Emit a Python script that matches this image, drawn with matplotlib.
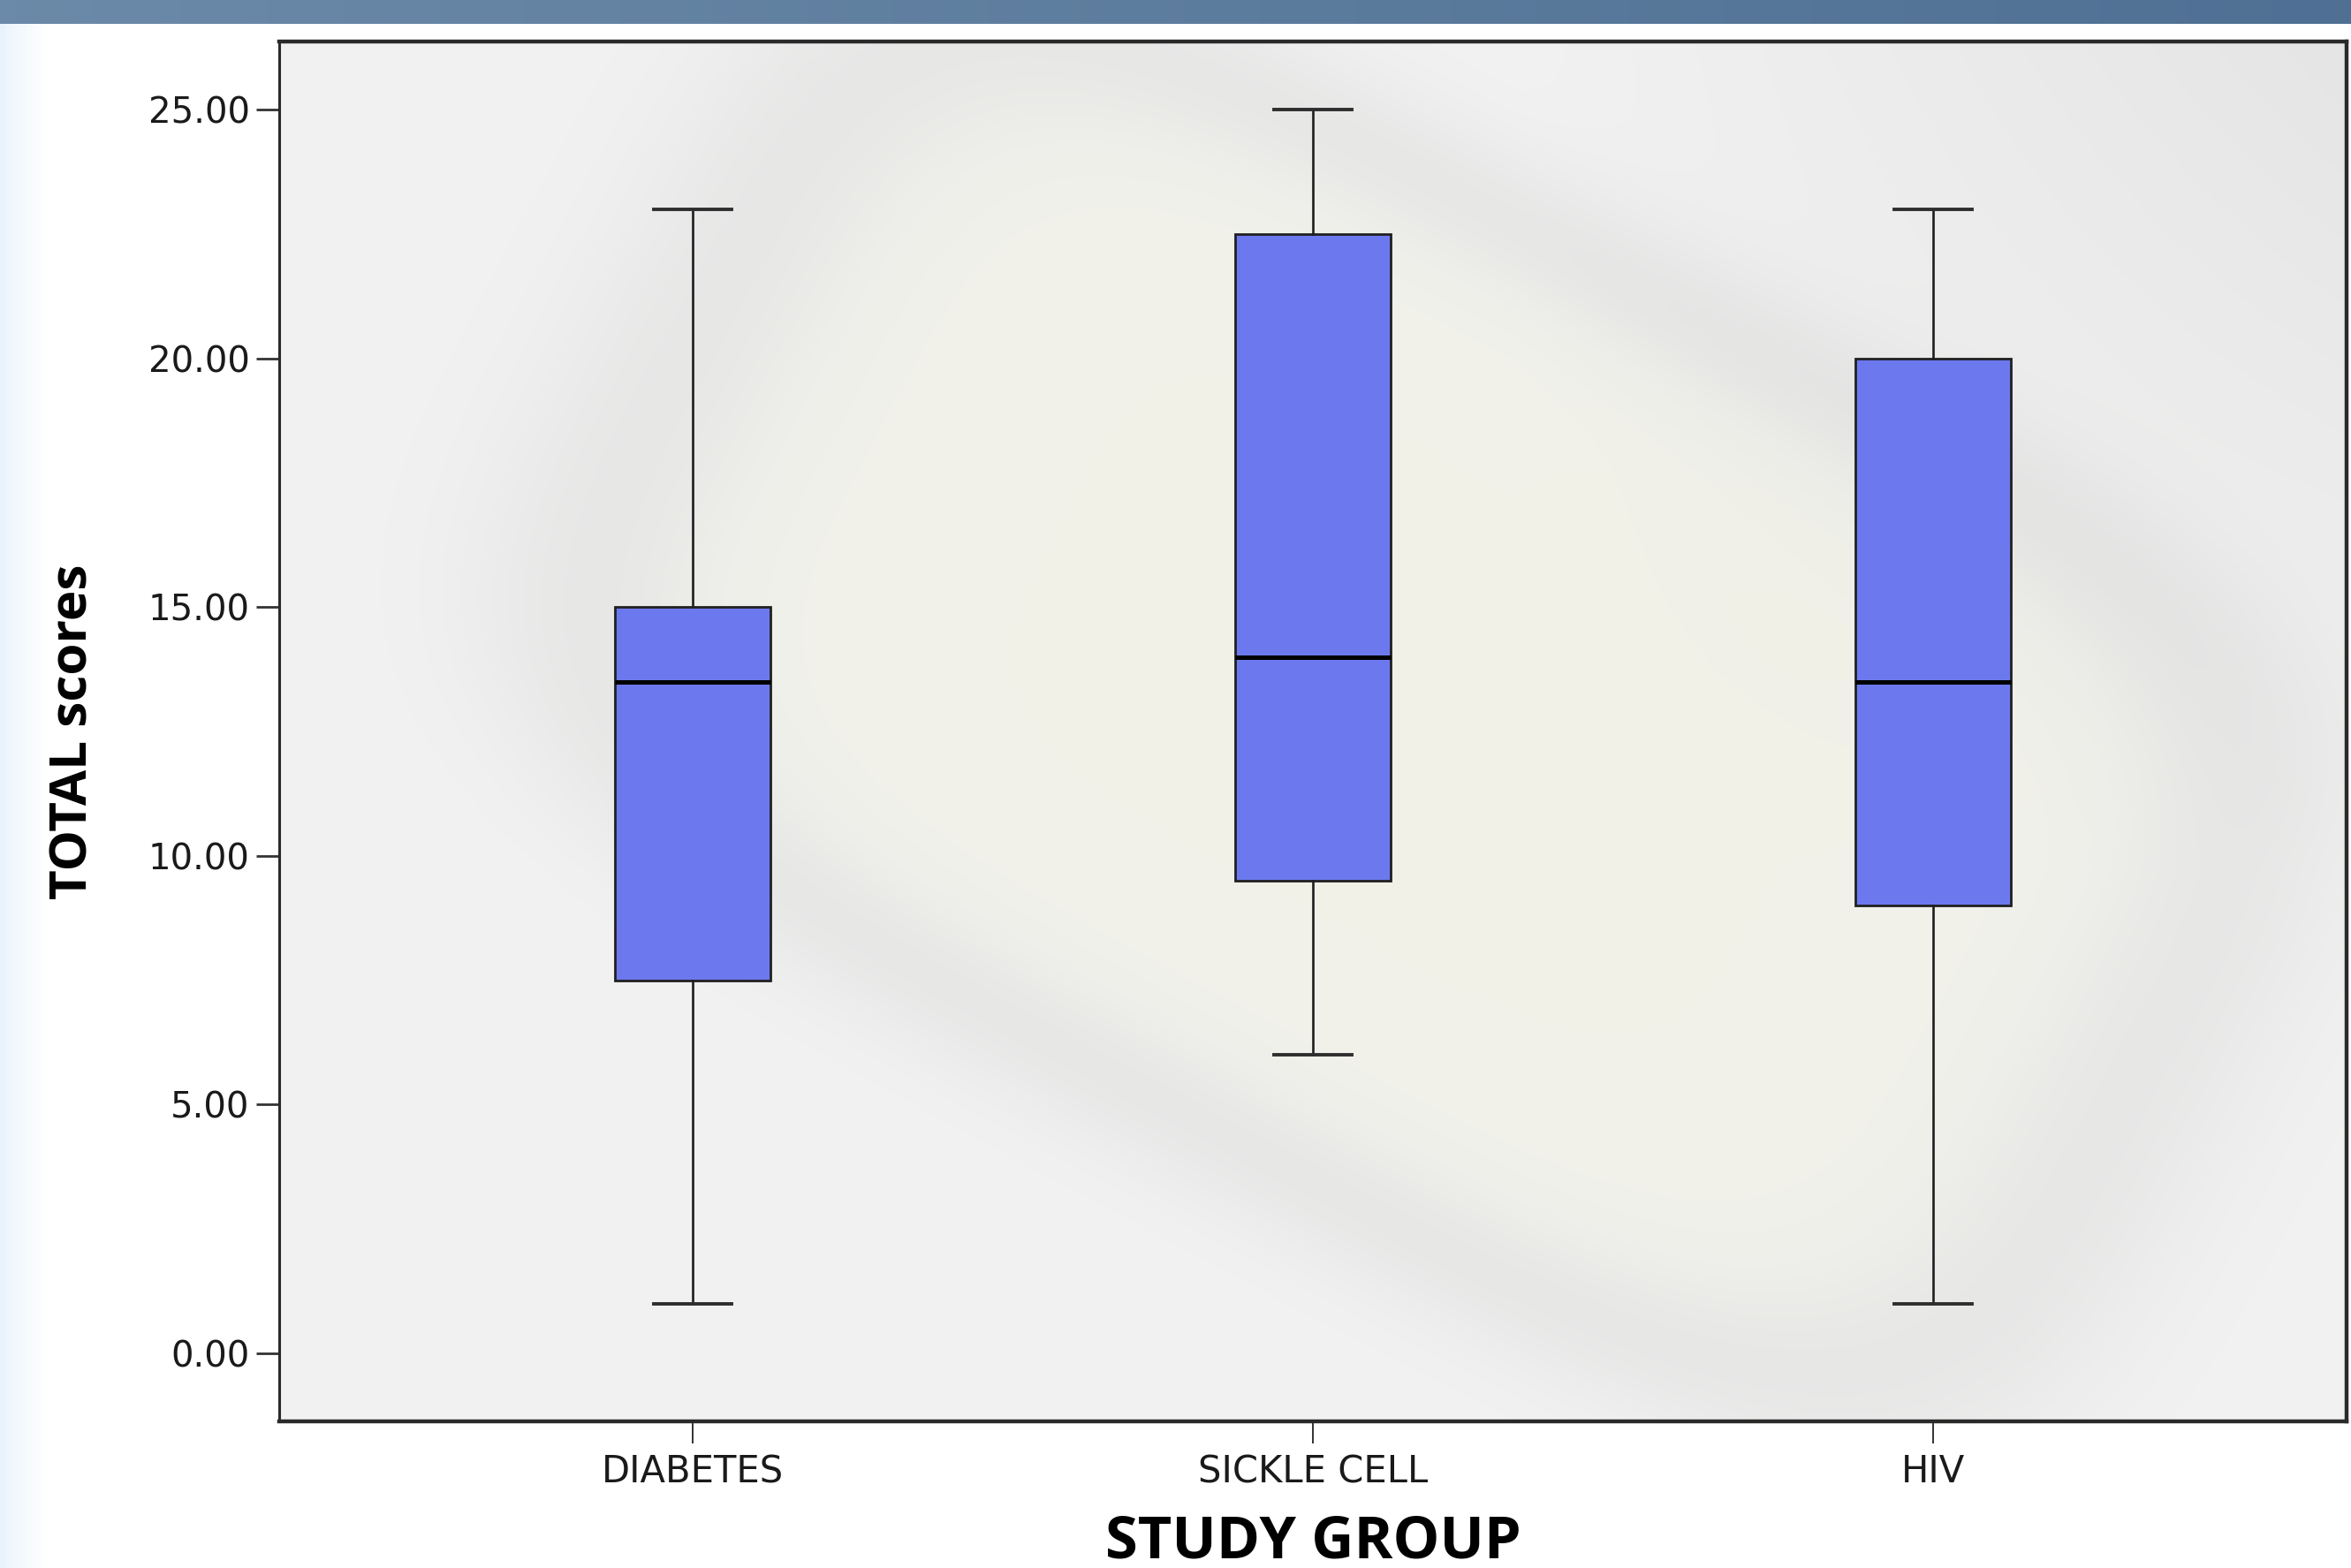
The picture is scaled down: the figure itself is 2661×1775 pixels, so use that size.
import numpy as np
import matplotlib.pyplot as plt

# Study groups and the five-number summaries of TOTAL scores
groups = ['DIABETES', 'SICKLE CELL', 'HIV']
whisker_low = [1.0, 6.0, 1.0]
q1 = [7.5, 9.5, 9.0]
median = [13.5, 14.0, 13.5]
q3 = [15.0, 22.5, 20.0]
whisker_high = [23.0, 25.0, 23.0]
yticks = [0, 5, 10, 15, 20, 25]

W, H = 2661, 1775
fig = plt.figure(figsize=(W / 100, H / 100), dpi=100)
fig.patch.set_facecolor('white')

# page background: pale blue fade on the left edge
bg = fig.add_axes([0, 0, 1, 1], zorder=-10)
xx = np.linspace(0, 1, 600)
fade = np.clip(xx / 0.02, 0, 1) ** 0.7
img = np.ones((2, 600, 3))
for c, v in enumerate([0.91, 0.95, 0.99]):
    img[:, :, c] = v + (1 - v) * fade
bg.imshow(img, aspect='auto', extent=[0, 1, 0, 1], interpolation='bilinear')
bg.set_axis_off()

# title bar strip along the top
bar = fig.add_axes([0, 1 - 27 / H, 1, 27 / H], zorder=-9)
grad = np.linspace(0, 1, 300)
c0 = np.array([0.42, 0.54, 0.66])
c1 = np.array([0.31, 0.44, 0.58])
strip = (c0[None, :] * (1 - grad[:, None]) + c1[None, :] * grad[:, None])[None, :, :]
bar.imshow(strip, aspect='auto', extent=[0, 1, 0, 1])
bar.set_axis_off()

ax = fig.add_axes([316 / W, 1 - 1609 / H, (2656 - 316) / W, (1609 - 47) / H])
ax.set_facecolor('#f1f1f1')

# soft watermark wash behind the plot: a tilted rounded frame, blurred
gy, gx = np.mgrid[0:1:240j, 0:1:360j]
th = np.deg2rad(-28)
px, py = (gx - 0.55) * 1.5, (gy - 0.52)
u = px * np.cos(th) + py * np.sin(th)
v = -px * np.sin(th) + py * np.cos(th)
r = ((u / 0.62) ** 4 + (v / 0.36) ** 4) ** 0.25
ring = np.exp(-((r - 0.95) / 0.15) ** 2)
inner = 1 / (1 + np.exp((r - 0.78) / 0.08))
corner = np.clip((gx - 0.6) / 0.4, 0, 1) * np.clip((gy - 0.4) / 0.6, 0, 1)
wash = np.ones((240, 360, 3)) * 0.948
wash -= 0.04 * ring[:, :, None]
wash -= 0.05 * corner[:, :, None]
wash[:, :, 2] -= 0.035 * inner
ax.imshow(np.clip(wash, 0, 1), aspect='auto', extent=[1 / 3, 3 + 2 / 3, -1.37, 26.37],
          origin='lower', interpolation='bicubic', zorder=0)

stats = []
for i, g in enumerate(groups):
    stats.append({'label': g, 'whislo': whisker_low[i], 'q1': q1[i], 'med': median[i],
                  'q3': q3[i], 'whishi': whisker_high[i], 'fliers': []})

bp = ax.bxp(stats, positions=[1, 2, 3], widths=0.25, capwidths=0.125,
            patch_artist=True, showfliers=False, zorder=3,
            boxprops=dict(facecolor='#6c79ee', edgecolor='#202020', linewidth=2.0),
            medianprops=dict(color='black', linewidth=3.6),
            whiskerprops=dict(color='#1e1e1e', linewidth=1.9),
            capprops=dict(color='#2e2e2e', linewidth=2.8))

ax.set_xlim(1 / 3, 3 + 2 / 3)
ax.set_ylim(-1.37, 26.37)
ax.set_yticks(yticks)
ax.set_yticklabels(['%.2f' % v for v in yticks], fontsize=29, color='#1a1a1a')
ax.set_xticks([1, 2, 3])
ax.set_xticklabels(groups, fontsize=30, color='#1a1a1a')
ax.tick_params(axis='y', length=19, width=2.0, color='#333333', pad=5)
ax.tick_params(axis='x', length=18, width=1.4, color='#333333', pad=8)

for side in ['top', 'right', 'bottom']:
    ax.spines[side].set_linewidth(3.2)
    ax.spines[side].set_color('#2a2a2a')
ax.spines['left'].set_linewidth(2.2)
ax.spines['left'].set_color('#2a2a2a')

ax.set_xlabel('STUDY GROUP', fontsize=48, fontweight='bold', family='Open Sans')
ax.set_ylabel('TOTAL scores', fontsize=42, fontweight='bold', family='Open Sans')
ax.xaxis.set_label_coords(0.5, -0.066)
ax.yaxis.set_label_coords(-0.087, 0.5)

plt.savefig('out.png', dpi=100)
